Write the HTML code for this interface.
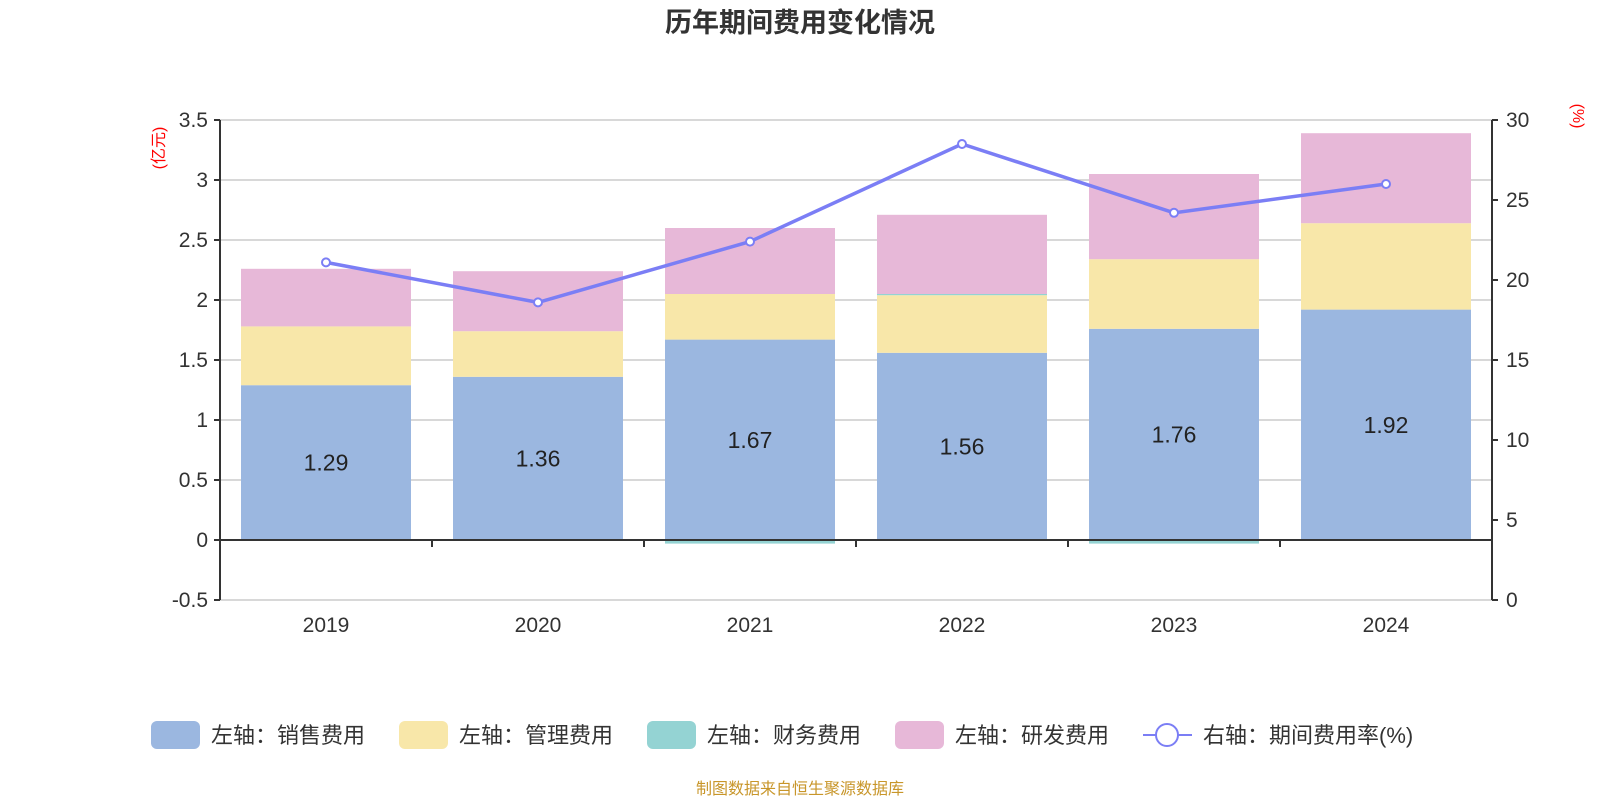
<!DOCTYPE html>
<html><head><meta charset="utf-8"><style>
body{margin:0;background:#fff;width:1600px;height:800px;overflow:hidden;font-family:"Liberation Sans","Noto Sans CJK SC",sans-serif}
</style></head><body>
<svg id="c" width="1600" height="800" xmlns="http://www.w3.org/2000/svg" font-family="Liberation Sans, Noto Sans CJK SC, sans-serif"></svg>
<script>
const years=["2019","2020","2021","2022","2023","2024"];
const sales=[1.29,1.36,1.67,1.56,1.76,1.92];
const mgmt=[0.49,0.38,0.38,0.48,0.58,0.72];
const fin=[0,-0.005,-0.03,0.01,-0.03,0];
const rnd=[0.48,0.50,0.55,0.66,0.71,0.75];
const rate=[21.1,18.6,22.4,28.5,24.2,26.0];
const leftTicks=[-0.5,0,0.5,1,1.5,2,2.5,3,3.5];
const rightTicks=[0,5,10,15,20,25,30];
const NS="http://www.w3.org/2000/svg";
const svg=document.getElementById('c');
const X0=220,X1=1492,Ytop=120,Ybot=600;
const yL=v=>Ybot-(v+0.5)/4*(Ybot-Ytop);
const yR=v=>Ybot-v/30*(Ybot-Ytop);
const cw=(X1-X0)/years.length;
const xc=i=>X0+cw*(i+0.5);
function el(t,a,txt){const e=document.createElementNS(NS,t);for(const k in a)e.setAttribute(k,a[k]);if(txt!==undefined)e.textContent=txt;svg.appendChild(e);return e;}
let e;
e=el('text',{x:800,y:32,'text-anchor':'middle','font-size':27,'font-weight':'bold',fill:'#333'},'历年期间费用变化情况');


leftTicks.forEach(t=>{
 e=el('line',{x1:X0,x2:X1,y1:yL(t),y2:yL(t),stroke:'#ccc','stroke-width':1.5});
 
 
 e=el('line',{x1:X0-6,x2:X0,y1:yL(t),y2:yL(t),stroke:'#333','stroke-width':2});
 
 
 e=el('text',{x:X0-12,y:yL(t)+7,'text-anchor':'end','font-size':21,fill:'#333'},String(t));
 
 
});
rightTicks.forEach(t=>{
 e=el('line',{x1:X1,x2:X1+6,y1:yR(t),y2:yR(t),stroke:'#333','stroke-width':2});
 
 
 e=el('text',{x:X1+14,y:yR(t)+7,'font-size':21,fill:'#333'},String(t));
 
 
});
const bw=170;
years.forEach((y,i)=>{
 const x=xc(i)-bw/2;
 const segs=[[0,sales[i],'#9bb7e0','bar-sales'],[sales[i],sales[i]+mgmt[i],'#f8e7a9','bar-management'],
  [sales[i]+mgmt[i]+Math.max(fin[i],0),sales[i]+mgmt[i]+Math.max(fin[i],0)+rnd[i],'#e7b8d8','bar-rnd']];
 segs.forEach(s=>{e=el('rect',{x:x,y:yL(s[1]),width:bw,height:yL(s[0])-yL(s[1]),fill:s[2]});
  
  });
 const fb=fin[i]>=0?sales[i]+mgmt[i]:0;
 e=el('rect',{x:x,y:yL(fb+Math.max(fin[i],0)),width:bw,height:Math.abs(yL(0)-yL(fin[i])),fill:'#94d3d3'});
 
 
 e=el('text',{x:xc(i),y:yL(sales[i]/2)+8,'text-anchor':'middle','font-size':23,fill:'#222'},sales[i].toFixed(2));
 
 
 e=el('text',{x:xc(i),y:632,'text-anchor':'middle','font-size':21,fill:'#333'},y);
 
 
 if(i>0){e=el('line',{x1:X0+cw*i,x2:X0+cw*i,y1:yL(0),y2:yL(0)+7,stroke:'#333','stroke-width':2});
 
 }
});
e=el('line',{x1:X0,x2:X1,y1:yL(0),y2:yL(0),stroke:'#333','stroke-width':2});


e=el('line',{x1:X0,x2:X0,y1:Ytop,y2:Ybot,stroke:'#333','stroke-width':2});


e=el('line',{x1:X1,x2:X1,y1:Ytop,y2:Ybot,stroke:'#333','stroke-width':2});


e=el('polyline',{points:rate.map((v,i)=>xc(i)+','+yR(v)).join(' '),fill:'none',stroke:'#7b7ef5','stroke-width':3.5});


rate.forEach((v,i)=>{e=el('circle',{cx:xc(i),cy:yR(v),r:4,fill:'#fff',stroke:'#7b7ef5','stroke-width':2});
 
 });
e=el('text',{x:0,y:0,transform:'translate(164,148) rotate(-90)','text-anchor':'middle','font-size':16,fill:'#f00'},'(亿元)');


e=el('text',{x:0,y:0,transform:'translate(1573,116) rotate(90)','text-anchor':'middle','font-size':16,fill:'#f00'},'(%)');


const leg=[['左轴：销售费用','#9bb7e0',151],['左轴：管理费用','#f8e7a9',399],['左轴：财务费用','#94d3d3',647],['左轴：研发费用','#e7b8d8',895]];
leg.forEach(l=>{e=el('rect',{x:l[2],y:721,width:49,height:28,rx:6,fill:l[1]});
 
 
 e=el('text',{x:l[2]+60,y:743,'font-size':22,fill:'#333'},l[0]);
 
 });
e=el('line',{x1:1143,x2:1192,y1:735,y2:735,stroke:'#7b7ef5','stroke-width':2});


e=el('circle',{cx:1167,cy:735,r:11,fill:'#fff',stroke:'#7b7ef5','stroke-width':2});


e=el('text',{x:1203,y:743,'font-size':22,fill:'#333'},'右轴：期间费用率(%)');


e=el('text',{x:800,y:794,'text-anchor':'middle','font-size':16,fill:'#c8962a'},'制图数据来自恒生聚源数据库');


</script>
</body></html>
